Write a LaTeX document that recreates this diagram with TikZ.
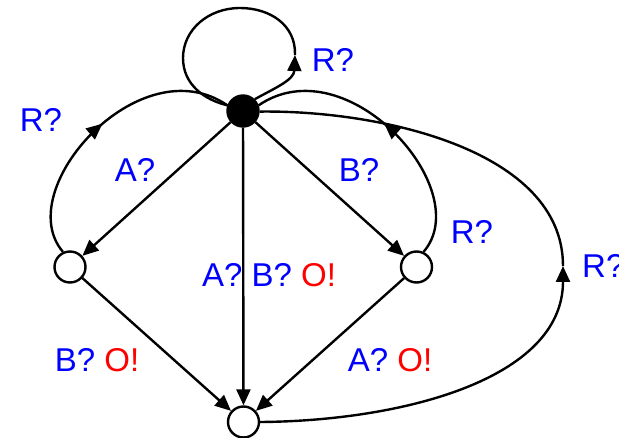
\documentclass[tikz,border=0pt]{standalone}
\usepackage{fontspec}
\setmainfont{Liberation Sans}
\usetikzlibrary{arrows.meta,decorations.markings}
\definecolor{lblue}{RGB}{0,0,255}
\definecolor{lred}{RGB}{255,0,0}
\begin{document}
\begin{tikzpicture}[x=1pt,y=-1pt,
  state/.style={circle,draw,line width=2.4pt,minimum size=31pt,inner sep=0pt,fill=white},
  edge/.style={line width=2.4pt,-{Triangle[length=16pt,width=14pt]}},
  arcline/.style={line width=2.4pt},
  lbl/.style={font=\fontsize{33}{38}\selectfont,inner sep=0pt,text=lblue},
  midarrow/.style={decoration={markings,mark=at position #1 with {\arrow{Triangle[length=16pt,width=14pt]}}},postaction={decorate}}]
\useasboundingbox (0,0) rectangle (619,438);
\node[state,fill=black] (top) at (243,111) {};
\node[state] (lft) at (70,267) {};
\node[state] (rgt) at (416.5,267) {};
\node[state] (bot) at (243.5,422) {};
\coordinate (rm) at (563,266);
\coordinate (lp) at (295,55);

\draw[edge] (top) -- (lft);
\draw[edge] (top) -- (rgt);
\draw[edge] (top) -- (bot);
\draw[edge] (lft) -- (bot);
\draw[edge] (rgt) -- (bot);

\draw[arcline,midarrow=0.52] (lft.115) .. controls (10,190) and (140,45) .. (top.160);
\draw[arcline,midarrow=0.52] (rgt.65) .. controls (477,190) and (347,45) .. (top.20);
\draw[edge] (top.45) .. controls (275,88) and (294,80) .. (lp);
\draw[arcline] (lp) .. controls (296,25) and (270,8) .. (240,8)
  .. controls (208,8) and (183,30) .. (183,58)
  .. controls (183,85) and (205,100) .. (top.160);
\draw[edge] (bot.east) .. controls (400,421) and (563,380) .. (rm);
\draw[arcline] (rm) .. controls (563,150) and (380,110) .. (top.-2);

\node[lbl] (l1) at (333,60) {R?};
\node[lbl] (l2) at (41,120) {R?};
\node[lbl] (l3) at (135,170) {A?};
\node[lbl] (l4) at (359,170) {B?};
\node[lbl] (l5) at (472,232) {R?};
\node[lbl,anchor=west] (l6) at (582,266) {R?};
\node[lbl] (l7) at (269,275) {A? B? \textcolor{lred}{O!}};
\node[lbl] (l8) at (97,360) {B? \textcolor{lred}{O!}};
\node[lbl] (l9) at (390,360) {A? \textcolor{lred}{O!}};
\end{tikzpicture}
\end{document}
